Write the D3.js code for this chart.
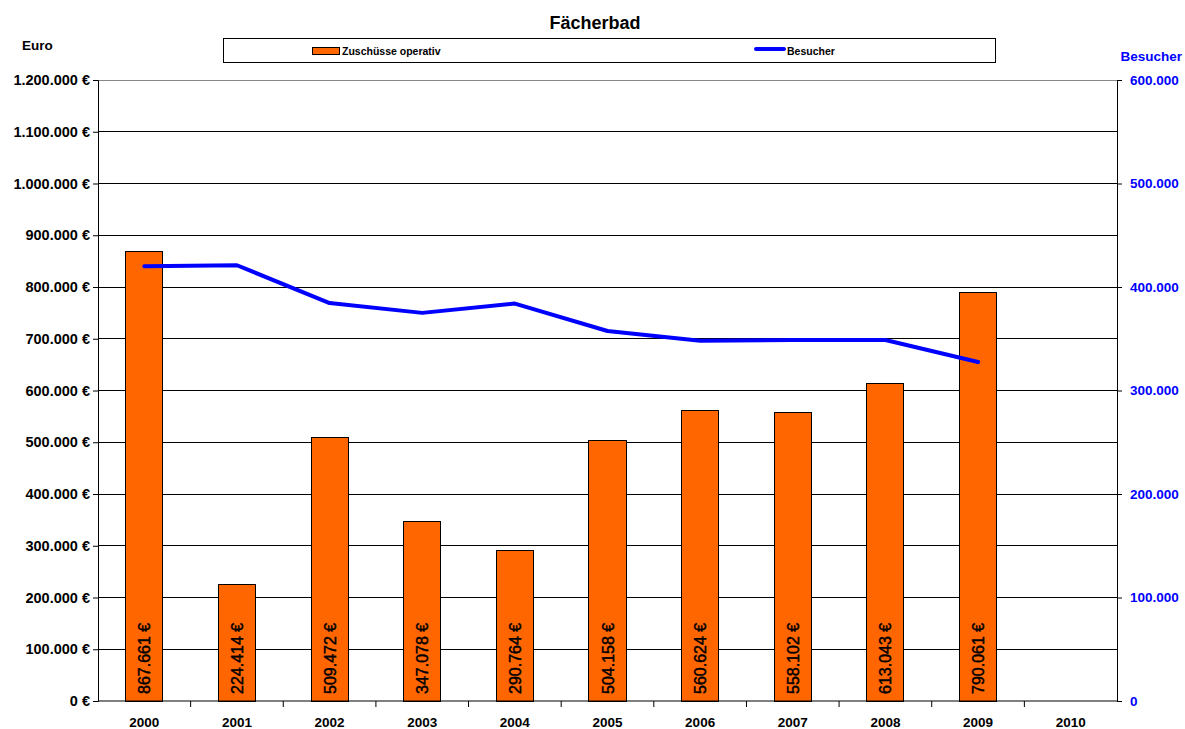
<!DOCTYPE html>
<html>
<head>
<meta charset="utf-8">
<script src="https://cdn.jsdelivr.net/npm/d3@7"></script>
<style>
  body { margin: 0; background: #fff; }
  svg { font-family: Arial, "Liberation Sans", sans-serif; }
</style>
</head>
<body>
<svg id="chart" width="1185" height="729"></svg>
<script>
// ========== Data ==========

const years = ["2000", "2001", "2002", "2003", "2004", "2005", "2006", "2007", "2008", "2009", "2010"];
const zuschuesse = [867661, 224414, 509472, 347078, 290764, 504158, 560624, 558102, 613043, 790061, null];
const besucher = [420000, 421000, 384500, 375000, 384000, 357500, 348000, 348800, 348800, 327500, null];
const euroTicks = d3.range(0, 1200001, 100000);
const besucherTicks = d3.range(0, 600001, 100000);

// ========== Helpers ==========

const de = d3.formatLocale({ decimal: ",", thousands: ".", grouping: [3], currency: ["", " €"] });
const fmtInt = de.format(",d");
const fmtEuro = v => fmtInt(v) + " €";

// ========== Chart ==========

const svg = d3.select("#chart");
const margin = { top: 80, right: 68, bottom: 28, left: 98 },
    width = +svg.attr("width") - margin.left - margin.right,
    height = +svg.attr("height") - margin.top - margin.bottom;

const g = svg.append("g").attr("transform", `translate(${margin.left},${margin.top})`);

const x = d3.scaleBand().domain(years).range([0, width]).paddingInner(0.6).paddingOuter(0.3);
const xTickPos = d3.scaleBand().domain(years).range([0, width]);
const y = d3.scaleLinear().domain([0, 1200000]).range([height, 0]);
const y2 = d3.scaleLinear().domain([0, 600000]).range([height, 0]);

// gridlines
g.selectAll(".grid")
    .data(euroTicks.filter(d => d > 0))
    .join("line")
    .attr("x1", 0).attr("x2", width)
    .attr("y1", d => y(d)).attr("y2", d => y(d))
    .attr("stroke", d => d === 1200000 ? "#888" : "#000")
    .attr("stroke-width", 1)
    .attr("shape-rendering", "crispEdges");

// bars
const barData = years.map((yr, i) => ({ year: yr, value: zuschuesse[i] })).filter(d => d.value != null);
g.selectAll(".bar")
    .data(barData)
    .join("rect")
    .attr("x", d => x(d.year))
    .attr("y", d => y(d.value))
    .attr("width", x.bandwidth())
    .attr("height", d => height - y(d.value))
    .attr("fill", "#ff6600")
    .attr("stroke", "#000")
    .attr("stroke-width", 1)
    .attr("shape-rendering", "crispEdges");

// bar labels
g.selectAll(".barlabel")
    .data(barData)
    .join("text")
    .attr("transform", d => `translate(${x(d.year) + x.bandwidth() / 2 + 6},${height - 7}) rotate(-90)`)
    .attr("font-size", 16)
    .attr("fill", "#000")
    .attr("stroke", "#000")
    .attr("stroke-width", 0.45)
    .text(d => fmtEuro(d.value));

// line
const lineData = years.map((yr, i) => ({ year: yr, value: besucher[i] })).filter(d => d.value != null);
g.append("path")
    .datum(lineData)
    .attr("fill", "none")
    .attr("stroke", "#0000ff")
    .attr("stroke-width", 4)
    .attr("stroke-linecap", "round")
    .attr("stroke-linejoin", "round")
    .attr("d", d3.line().x(d => x(d.year) + x.bandwidth() / 2).y(d => y2(d.value)));

// left axis
const leftAxis = g.append("g")
    .call(d3.axisLeft(y).tickValues(euroTicks).tickFormat(fmtEuro).tickSize(5).tickPadding(3));
leftAxis.selectAll("text").attr("font-size", 14.5).attr("font-weight", "bold").attr("fill", "#000");

// right axis
const rightAxis = g.append("g")
    .attr("transform", `translate(${width},0)`)
    .call(d3.axisRight(y2).tickValues(besucherTicks).tickFormat(d => d === 0 ? "0" : fmtInt(d)).tickSize(5).tickPadding(8));
rightAxis.selectAll("text").attr("font-size", 13.5).attr("font-weight", "bold").attr("fill", "#0000ff");

// bottom axis
const bottomAxis = g.append("g").attr("transform", `translate(0,${height})`);
bottomAxis.append("line").attr("x1", 0).attr("x2", width).attr("stroke", "#000");
bottomAxis.selectAll(".xtick")
    .data(years.slice(1))
    .join("line")
    .attr("x1", d => xTickPos(d)).attr("x2", d => xTickPos(d))
    .attr("y1", 0).attr("y2", 6)
    .attr("stroke", "#000");
bottomAxis.selectAll(".xlabel")
    .data(years)
    .join("text")
    .attr("x", d => xTickPos(d) + xTickPos.bandwidth() / 2)
    .attr("y", 26)
    .attr("text-anchor", "middle")
    .attr("font-size", 13.5)
    .attr("font-weight", "bold")
    .text(d => d);

svg.selectAll(".domain").attr("stroke", "#000");

// ========== Title, Legend, Axis titles ==========

svg.append("text")
    .attr("x", 595).attr("y", 29)
    .attr("text-anchor", "middle")
    .attr("font-size", 18).attr("font-weight", "bold")
    .text("Fächerbad");

svg.append("text")
    .attr("x", 22).attr("y", 50)
    .attr("font-size", 13.5).attr("font-weight", "bold")
    .text("Euro");

svg.append("text")
    .attr("x", 1182).attr("y", 61)
    .attr("text-anchor", "end")
    .attr("font-size", 13.5).attr("font-weight", "bold")
    .attr("fill", "#0000ff")
    .text("Besucher");

const legend = svg.append("g");
legend.append("rect")
    .attr("x", 223.5).attr("y", 38.5).attr("width", 772).attr("height", 24)
    .attr("fill", "#fff").attr("stroke", "#000");
legend.append("rect")
    .attr("x", 312.5).attr("y", 47.5).attr("width", 27).attr("height", 7)
    .attr("fill", "#ff6600").attr("stroke", "#000");
legend.append("text")
    .attr("x", 342).attr("y", 55)
    .attr("font-size", 10.5).attr("font-weight", "bold")
    .text("Zuschüsse operativ");
legend.append("line")
    .attr("x1", 756).attr("x2", 784).attr("y1", 49).attr("y2", 49)
    .attr("stroke", "#0000ff").attr("stroke-width", 4).attr("stroke-linecap", "round");
legend.append("text")
    .attr("x", 787).attr("y", 55)
    .attr("font-size", 10.5).attr("font-weight", "bold")
    .text("Besucher");
</script>
</body>
</html>
